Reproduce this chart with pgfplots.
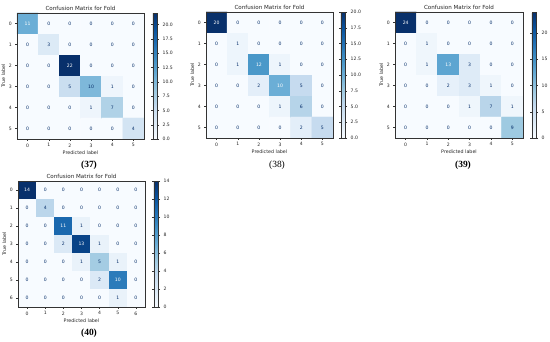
\documentclass[border=0pt]{standalone}
\usepackage{pgfplots}
\pgfplotsset{compat=1.18}
\usepackage{pgfplotstable}
\usepackage{fontspec}
\setmainfont{DejaVu Sans}
\newfontfamily\capfont{Liberation Serif}
\definecolor{cmdark}{RGB}{8,48,107}
\newcommand\tfont{\fontsize{4.6}{5}\selectfont}
\newcommand\lfont{\fontsize{4.8}{5}\selectfont}
\pgfplotsset{
  colormap={blues}{rgb255=(247,251,255) rgb255=(222,235,247) rgb255=(198,219,239) rgb255=(158,202,225) rgb255=(107,174,214) rgb255=(66,146,198) rgb255=(33,113,181) rgb255=(8,81,156) rgb255=(8,48,107)},
  /pgf/number format/assume math mode=true,
  cm/.style={
    scale only axis, anchor=north west, width=127bp, height=126bp,
    enlargelimits=false, axis on top,
    colormap name=blues, point meta min=0,
    xmin=-0.5, ymin=-0.5,
    tick align=outside, major tick length=1.6bp,
    xtick pos=left, ytick pos=left,
    tick style={black!80, line width=0.35bp},
    axis line style={black!80, line width=0.4bp},
    ticklabel style={font=\tfont, black!85},
    xticklabel style={yshift=0.5bp},
    title={Confusion Matrix for Fold},
    every axis title/.style={at={(0.5,1)}, anchor=south, font=\fontsize{5.6}{6}\selectfont, black!85, inner sep=1.5bp, yshift=0.8bp},
    xlabel={Predicted label}, ylabel={True label},
    label style={font=\lfont, black!85},
    xlabel style={yshift=3.5bp},
    ylabel style={yshift=-3bp},
    colorbar,
    colorbar style={at={(1.07,1)}, anchor=north west, width=4.6bp,
      tick align=outside, major tick length=1.6bp,
      tick style={black!80, line width=0.35bp},
      axis line style={black!80, line width=0.4bp},
      yticklabel style={font=\tfont, black!85},
    },
  },
  cmlo/.style={draw=none, mark=none, point meta=explicit, nodes near coords,
    unbounded coords=discard,
    every node near coord/.append style={anchor=center, font=\tfont, inner sep=0pt, text=cmdark},
    x filter/.expression={\thisrow{c}<#1 ? x : nan}},
  cmhi/.style={draw=none, mark=none, point meta=explicit, nodes near coords,
    unbounded coords=discard,
    every node near coord/.append style={anchor=center, font=\tfont, inner sep=0pt, text=white},
    x filter/.expression={\thisrow{c}<#1 ? nan : x}},
}

\pgfplotstableread[row sep=\\]{
x y c\\
0 0 11\\ 1 0 0\\ 2 0 0\\ 3 0 0\\ 4 0 0\\ 5 0 0\\
0 1 0\\ 1 1 3\\ 2 1 0\\ 3 1 0\\ 4 1 0\\ 5 1 0\\
0 2 0\\ 1 2 0\\ 2 2 22\\ 3 2 0\\ 4 2 0\\ 5 2 0\\
0 3 0\\ 1 3 0\\ 2 3 5\\ 3 3 10\\ 4 3 1\\ 5 3 0\\
0 4 0\\ 1 4 0\\ 2 4 0\\ 3 4 1\\ 4 4 7\\ 5 4 0\\
0 5 0\\ 1 5 0\\ 2 5 0\\ 3 5 0\\ 4 5 0\\ 5 5 4\\
}\tA
\pgfplotstableread[row sep=\\]{
x y c\\
0 0 20\\ 1 0 0\\ 2 0 0\\ 3 0 0\\ 4 0 0\\ 5 0 0\\
0 1 0\\ 1 1 1\\ 2 1 0\\ 3 1 0\\ 4 1 0\\ 5 1 0\\
0 2 0\\ 1 2 1\\ 2 2 12\\ 3 2 1\\ 4 2 0\\ 5 2 0\\
0 3 0\\ 1 3 0\\ 2 3 2\\ 3 3 10\\ 4 3 5\\ 5 3 0\\
0 4 0\\ 1 4 0\\ 2 4 0\\ 3 4 1\\ 4 4 6\\ 5 4 0\\
0 5 0\\ 1 5 0\\ 2 5 0\\ 3 5 0\\ 4 5 2\\ 5 5 5\\
}\tB
\pgfplotstableread[row sep=\\]{
x y c\\
0 0 24\\ 1 0 0\\ 2 0 0\\ 3 0 0\\ 4 0 0\\ 5 0 0\\
0 1 0\\ 1 1 1\\ 2 1 0\\ 3 1 0\\ 4 1 0\\ 5 1 0\\
0 2 0\\ 1 2 1\\ 2 2 13\\ 3 2 3\\ 4 2 0\\ 5 2 0\\
0 3 0\\ 1 3 0\\ 2 3 2\\ 3 3 3\\ 4 3 1\\ 5 3 0\\
0 4 0\\ 1 4 0\\ 2 4 0\\ 3 4 1\\ 4 4 7\\ 5 4 1\\
0 5 0\\ 1 5 0\\ 2 5 0\\ 3 5 0\\ 4 5 0\\ 5 5 9\\
}\tC
\pgfplotstableread[row sep=\\]{
x y c\\
0 0 14\\ 1 0 0\\ 2 0 0\\ 3 0 0\\ 4 0 0\\ 5 0 0\\ 6 0 0\\
0 1 0\\ 1 1 4\\ 2 1 0\\ 3 1 0\\ 4 1 0\\ 5 1 0\\ 6 1 0\\
0 2 0\\ 1 2 0\\ 2 2 11\\ 3 2 1\\ 4 2 0\\ 5 2 0\\ 6 2 0\\
0 3 0\\ 1 3 0\\ 2 3 2\\ 3 3 13\\ 4 3 1\\ 5 3 0\\ 6 3 0\\
0 4 0\\ 1 4 0\\ 2 4 0\\ 3 4 1\\ 4 4 5\\ 5 4 1\\ 6 4 0\\
0 5 0\\ 1 5 0\\ 2 5 0\\ 3 5 0\\ 4 5 2\\ 5 5 10\\ 6 5 0\\
0 6 0\\ 1 6 0\\ 2 6 0\\ 3 6 0\\ 4 6 0\\ 5 6 1\\ 6 6 0\\
}\tD

\begin{document}
\begin{tikzpicture}
\path[use as bounding box] (0,0) rectangle (550bp,342bp);

% (37)
\begin{axis}[cm, at={(17bp,329bp)}, xmax=5.5, ymax=5.5,
  xtick={0,...,5}, ytick={0,...,5}, yticklabels={5,4,3,2,1,0},
  point meta max=22,
  colorbar style={ytick={0,2.5,...,20}, yticklabel style={/pgf/number format/.cd, fixed, fixed zerofill, precision=1}}]
\addplot[matrix plot*, mesh/cols=6, point meta=explicit] table[x=x, y expr=5-\thisrow{y}, meta=c]{\tA};
\addplot[cmlo=11] table[x=x, y expr=5-\thisrow{y}, meta=c]{\tA};
\addplot[cmhi=11] table[x=x, y expr=5-\thisrow{y}, meta=c]{\tA};
\end{axis}

% (38)
\begin{axis}[cm, at={(206bp,330bp)}, xmax=5.5, ymax=5.5,
  xtick={0,...,5}, ytick={0,...,5}, yticklabels={5,4,3,2,1,0},
  point meta max=20,
  colorbar style={at={(1.063,1)}, ytick={0,2.5,...,20}, yticklabel style={/pgf/number format/.cd, fixed, fixed zerofill, precision=1}}]
\addplot[matrix plot*, mesh/cols=6, point meta=explicit] table[x=x, y expr=5-\thisrow{y}, meta=c]{\tB};
\addplot[cmlo=10] table[x=x, y expr=5-\thisrow{y}, meta=c]{\tB};
\addplot[cmhi=10] table[x=x, y expr=5-\thisrow{y}, meta=c]{\tB};
\end{axis}

% (39)
\begin{axis}[cm, at={(395bp,330bp)}, width=128bp, xmax=5.5, ymax=5.5,
  xtick={0,...,5}, ytick={0,...,5}, yticklabels={5,4,3,2,1,0},
  point meta max=24,
  colorbar style={ytick={0,5,...,20}}]
\addplot[matrix plot*, mesh/cols=6, point meta=explicit] table[x=x, y expr=5-\thisrow{y}, meta=c]{\tC};
\addplot[cmlo=12] table[x=x, y expr=5-\thisrow{y}, meta=c]{\tC};
\addplot[cmhi=12] table[x=x, y expr=5-\thisrow{y}, meta=c]{\tC};
\end{axis}

% (40)
\begin{axis}[cm, at={(18bp,161bp)}, xmax=6.5, ymax=6.5,
  xtick={0,...,6}, ytick={0,...,6}, yticklabels={6,5,4,3,2,1,0},
  point meta max=14,
  colorbar style={ytick={0,2,...,14}}]
\addplot[matrix plot*, mesh/cols=7, point meta=explicit] table[x=x, y expr=6-\thisrow{y}, meta=c]{\tD};
\addplot[cmlo=7] table[x=x, y expr=6-\thisrow{y}, meta=c]{\tD};
\addplot[cmhi=7] table[x=x, y expr=6-\thisrow{y}, meta=c]{\tD};
\end{axis}

\node[font=\capfont\bfseries\fontsize{9.5}{10}\selectfont] at (89bp,177bp) {(37)};
\node[font=\capfont\fontsize{9.5}{10}\selectfont] at (277bp,177bp) {(38)};
\node[font=\capfont\bfseries\fontsize{9.5}{10}\selectfont] at (463bp,177bp) {(39)};
\node[font=\capfont\bfseries\fontsize{9.5}{10}\selectfont] at (89bp,9bp) {(40)};
\end{tikzpicture}
\end{document}
